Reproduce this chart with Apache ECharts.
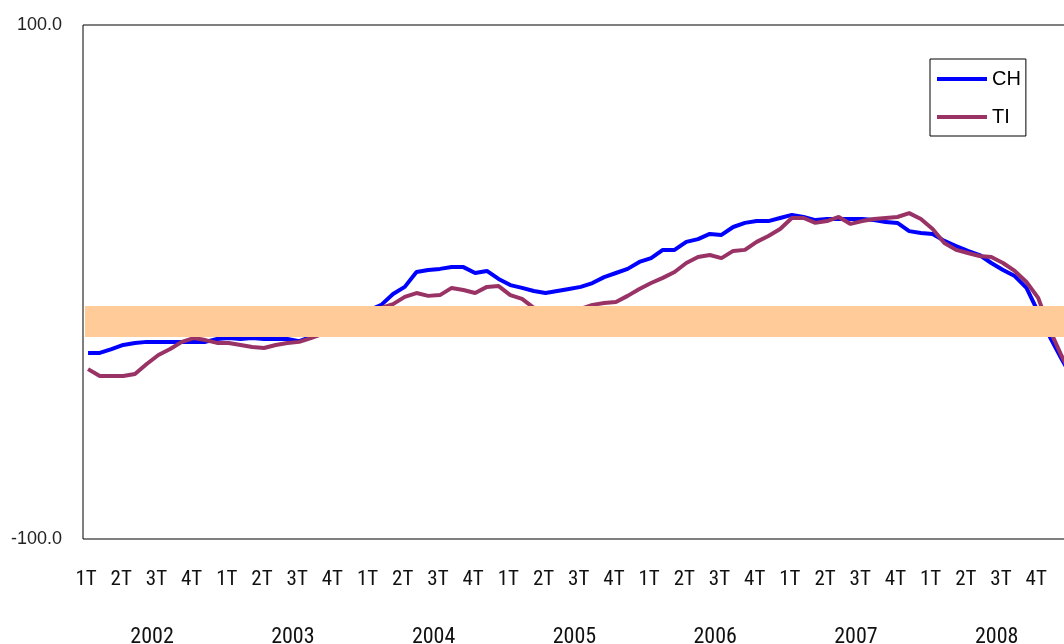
<!DOCTYPE html>
<html>
<head>
<meta charset="utf-8">
<script src="https://cdn.jsdelivr.net/npm/echarts@6/dist/echarts.min.js"></script>
<style>html,body{margin:0;padding:0;background:#fff}#c{width:1064px;height:644px}</style>
</head>
<body>
<div id="c"></div>
<script>
// Monthly index from January 2002 (0) onwards
const quarterNames = ['1T', '2T', '3T', '4T'];
const yearLabels = ['2002', '2003', '2004', '2005', '2006', '2007', '2008'];
const seriesNames = ['CH', 'TI'];
const chValues = [
  -27.6, -27.6, -26.1, -24.5, -23.7, -23.3, -23.3, -23.3, -23.3, -23.3, -23.3, -22.2,
  -21.8, -22.2, -21.8, -22.2, -22.2, -22.2, -23.0, -21.4, -19.8, -17.9, -15.6, -13.2,
  -10.9, -8.9, -4.7, -1.9, 3.9, 4.7, 5.1, 5.8, 5.8, 3.5, 4.3, 1.2,
  -1.2, -2.3, -3.5, -4.3, -3.5, -2.7, -1.9, -0.4, 1.9, 3.5, 5.1, 7.8,
  9.3, 12.5, 12.5, 15.6, 16.7, 18.7, 18.3, 21.4, 23.0, 23.7, 23.7, 24.9,
  26.1, 25.3, 24.1, 24.5, 24.5, 24.5, 24.5, 24.1, 23.3, 23.0, 19.8, 19.1,
  18.7, 16.0, 14.0, 12.1, 10.5, 7.4, 4.7, 2.3, -2.3, -11.7, -21.4, -30.0, -38.1
];
const tiValues = [
  -33.9, -36.6, -36.6, -36.6, -35.8, -31.9, -28.4, -26.1, -23.3, -21.8, -22.6, -23.7,
  -23.7, -24.5, -25.3, -25.7, -24.5, -23.7, -23.3, -21.8, -20.2, -17.9, -15.6, -13.2,
  -11.7, -10.1, -8.6, -5.8, -4.3, -5.4, -5.1, -2.3, -3.1, -4.3, -1.9, -1.6,
  -5.1, -6.6, -10.1, -12.1, -12.5, -11.7, -10.5, -8.9, -8.2, -7.8, -5.4, -2.7,
  -0.4, 1.6, 3.9, 7.4, 9.7, 10.5, 9.3, 12.1, 12.5, 15.6, 17.9, 20.6,
  24.9, 24.9, 23.0, 23.7, 25.3, 22.6, 23.7, 24.5, 24.9, 25.3, 26.8, 24.5,
  20.6, 15.2, 12.5, 11.3, 10.1, 9.7, 7.4, 4.3, 0.0, -6.2, -18.7, -28.8, -37.4
];
const bandRange = [-21.4, -9.3];
const yRange = [-100, 100];

// axis geometry in month units
const xMin = -0.43, xMax = 83.37;
const quarterStart = -0.17; // label position of first quarter
const yearStart = 5.46;     // label position of first year
const quarterTicks = [];
for (let i = 0; i < yearLabels.length * 4; i++) quarterTicks.push(quarterStart + 3 * i);
const yearTicks = yearLabels.map((_, i) => yearStart + 12 * i);

const toPairs = arr => arr.map((v, i) => [i, v]);
const condensed = '"Roboto Condensed", "DejaVu Sans Condensed", sans-serif';
const regular = '"Liberation Sans", Arial, sans-serif';

const chart = echarts.init(document.getElementById('c'), null, {renderer: 'canvas'});
chart.setOption({
  animation: false,
  backgroundColor: '#fff',
  grid: {left: 83, top: 25, bottom: 105, right: -2, outerBoundsMode: 'none', containLabel: false,
    show: true, borderColor: '#000', borderWidth: 1, backgroundColor: 'transparent'},
  legend: {
    data: seriesNames, orient: 'vertical', left: 930, top: 59,
    backgroundColor: '#fff', borderColor: '#000', borderWidth: 1,
    padding: [10, 5, 9, 7], itemGap: 18, itemWidth: 50, itemHeight: 4, icon: 'rect',
    textStyle: {fontFamily: regular, fontSize: 20, color: '#000'}
  },
  xAxis: [{
    type: 'value', min: xMin, max: xMax, position: 'bottom',
    axisLine: {show: false}, axisTick: {show: false}, splitLine: {show: false},
    axisLabel: {
      customValues: quarterTicks, margin: 30, color: '#111',
      fontFamily: condensed, fontSize: 21,
      formatter: v => quarterNames[Math.round((v - quarterStart) / 3) % 4]
    }
  }, {
    type: 'value', min: xMin, max: xMax, position: 'bottom',
    axisLine: {show: false}, axisTick: {show: false}, splitLine: {show: false},
    axisLabel: {
      customValues: yearTicks, margin: 87, color: '#111',
      fontFamily: condensed, fontSize: 22,
      formatter: v => yearLabels[Math.round((v - yearStart) / 12)]
    }
  }],
  yAxis: {
    type: 'value', min: yRange[0], max: yRange[1], interval: 200,
    axisLine: {show: false}, axisTick: {show: false}, splitLine: {show: false},
    axisLabel: {margin: 21, color: '#222', fontFamily: regular, fontSize: 18,
      formatter: v => v.toFixed(1)}
  },
  series: [{
    name: seriesNames[0], type: 'line', data: toPairs(chValues), showSymbol: false,
    lineStyle: {color: '#0000FF', width: 4}, itemStyle: {color: '#0000FF'}
  }, {
    name: seriesNames[1], type: 'line', data: toPairs(tiValues), showSymbol: false,
    lineStyle: {color: '#993366', width: 4}, itemStyle: {color: '#993366'},
    markArea: {
      silent: true, z: 10,
      itemStyle: {color: '#FFCC99', opacity: 1},
      data: [[{xAxis: -0.26, yAxis: bandRange[1]}, {xAxis: xMax + 5, yAxis: bandRange[0]}]]
    }
  }]
});
</script>
</body>
</html>
